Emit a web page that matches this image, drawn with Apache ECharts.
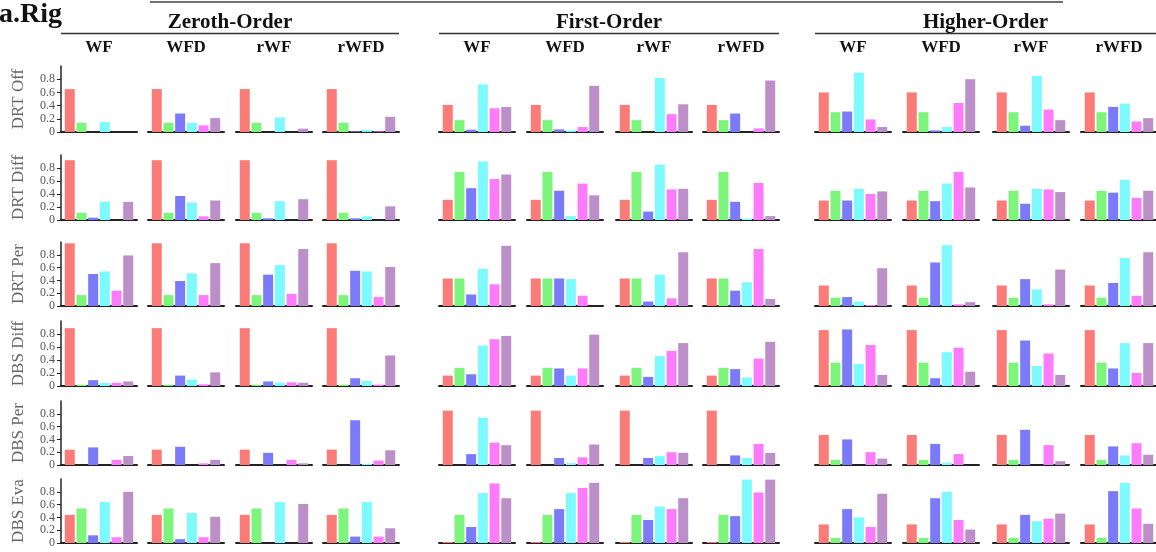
<!DOCTYPE html>
<html>
<head>
<meta charset="utf-8">
<title>a.Rig</title>
<script src="https://cdn.jsdelivr.net/npm/echarts@6/dist/echarts.min.js"></script>
<style>
  html, body { margin: 0; padding: 0; background: #ffffff; overflow: hidden; }
  #chart { width: 1156px; height: 552px; }
</style>
</head>
<body>
<div id="chart"></div>
<script>
// ---- data ----
const panelTitle = 'a.Rig';
const groupNames = ['Zeroth-Order', 'First-Order', 'Higher-Order'];
const variantNames = ['WF', 'WFD', 'rWF', 'rWFD'];
const rowLabels = ['DRT Off', 'DRT Diff', 'DRT Per', 'DBS Diff', 'DBS Per', 'DBS Eva'];
const methodIds = [1, 2, 3, 4, 5, 6];
const tickValues = [0, 0.2, 0.4, 0.6, 0.8];

// one list of six bar heights per panel, columns ordered
// Zeroth (WF, WFD, rWF, rWFD), First (...), Higher (...)
const drtOff = [
  [0.65, 0.14, 0, 0.15, 0, 0],
  [0.65, 0.14, 0.28, 0.14, 0.10, 0.21],
  [0.65, 0.14, 0, 0.22, 0, 0.05],
  [0.65, 0.14, 0.01, 0.03, 0.01, 0.23],
  [0.41, 0.18, 0.035, 0.72, 0.36, 0.38],
  [0.41, 0.18, 0.04, 0.025, 0.075, 0.70],
  [0.41, 0.18, 0, 0.82, 0.27, 0.42],
  [0.41, 0.18, 0.28, 0, 0.055, 0.78],
  [0.60, 0.30, 0.31, 0.90, 0.19, 0.075],
  [0.60, 0.30, 0.025, 0.075, 0.44, 0.80],
  [0.60, 0.30, 0.095, 0.85, 0.34, 0.18],
  [0.60, 0.30, 0.38, 0.43, 0.16, 0.21]
];
const drtDiff = [
  [0.92, 0.11, 0.036, 0.28, 0, 0.28],
  [0.92, 0.11, 0.37, 0.27, 0.056, 0.30],
  [0.92, 0.11, 0.026, 0.29, 0, 0.32],
  [0.92, 0.11, 0.026, 0.056, 0, 0.21],
  [0.31, 0.74, 0.49, 0.90, 0.63, 0.70],
  [0.31, 0.74, 0.45, 0.06, 0.56, 0.38],
  [0.31, 0.74, 0.13, 0.85, 0.47, 0.48],
  [0.31, 0.74, 0.28, 0.02, 0.57, 0.06],
  [0.30, 0.45, 0.30, 0.48, 0.40, 0.44],
  [0.30, 0.45, 0.29, 0.56, 0.74, 0.50],
  [0.30, 0.45, 0.25, 0.48, 0.47, 0.43],
  [0.30, 0.45, 0.42, 0.62, 0.34, 0.45]
];
const drtPer = [
  [0.98, 0.17, 0.50, 0.54, 0.24, 0.79],
  [0.98, 0.17, 0.39, 0.51, 0.17, 0.67],
  [0.98, 0.17, 0.49, 0.64, 0.19, 0.89],
  [0.98, 0.17, 0.55, 0.54, 0.14, 0.61],
  [0.43, 0.43, 0.18, 0.58, 0.34, 0.94],
  [0.43, 0.43, 0.43, 0.42, 0.16, 0],
  [0.43, 0.43, 0.07, 0.49, 0.12, 0.84],
  [0.43, 0.43, 0.24, 0.37, 0.89, 0.11],
  [0.32, 0.13, 0.14, 0.07, 0.016, 0.59],
  [0.32, 0.13, 0.68, 0.95, 0.026, 0.06],
  [0.32, 0.13, 0.42, 0.26, 0.026, 0.57],
  [0.32, 0.13, 0.36, 0.75, 0.16, 0.84]
];
const dbsDiff = [
  [0.89, 0.02, 0.09, 0.046, 0.05, 0.07],
  [0.89, 0.02, 0.16, 0.10, 0.026, 0.21],
  [0.89, 0.02, 0.07, 0.05, 0.056, 0.05],
  [0.89, 0.02, 0.12, 0.077, 0.02, 0.47],
  [0.16, 0.28, 0.18, 0.62, 0.72, 0.77],
  [0.16, 0.28, 0.27, 0.16, 0.27, 0.79],
  [0.16, 0.28, 0.14, 0.46, 0.54, 0.66],
  [0.16, 0.28, 0.26, 0.13, 0.42, 0.68],
  [0.86, 0.36, 0.87, 0.34, 0.63, 0.17],
  [0.86, 0.36, 0.12, 0.52, 0.59, 0.22],
  [0.86, 0.36, 0.70, 0.31, 0.50, 0.17],
  [0.86, 0.36, 0.27, 0.66, 0.20, 0.66]
];
const dbsPer = [
  [0.24, 0, 0.275, 0, 0.08, 0.14],
  [0.24, 0, 0.285, 0, 0.026, 0.08],
  [0.24, 0, 0.19, 0, 0.08, 0.026],
  [0.24, 0, 0.70, 0.02, 0.07, 0.23],
  [0.85, 0, 0.17, 0.74, 0.35, 0.31],
  [0.85, 0, 0.11, 0.03, 0.12, 0.32],
  [0.85, 0, 0.11, 0.14, 0.20, 0.19],
  [0.85, 0, 0.15, 0.11, 0.33, 0.19],
  [0.47, 0.08, 0.40, 0, 0.20, 0.10],
  [0.47, 0.08, 0.33, 0.036, 0.17, 0],
  [0.47, 0.08, 0.55, 0, 0.31, 0.06],
  [0.47, 0.08, 0.29, 0.15, 0.34, 0.16]
];
const dbsEva = [
  [0.44, 0.54, 0.12, 0.64, 0.09, 0.80],
  [0.44, 0.54, 0.06, 0.47, 0.09, 0.41],
  [0.44, 0.54, 0, 0.64, 0, 0.61],
  [0.44, 0.54, 0.10, 0.64, 0.10, 0.23],
  [0.016, 0.44, 0.25, 0.78, 0.93, 0.70],
  [0.016, 0.44, 0.53, 0.78, 0.86, 0.94],
  [0.016, 0.44, 0.36, 0.57, 0.53, 0.70],
  [0.016, 0.44, 0.42, 0.99, 0.79, 0.99],
  [0.29, 0.08, 0.53, 0.40, 0.25, 0.77],
  [0.29, 0.08, 0.70, 0.80, 0.36, 0.21],
  [0.29, 0.08, 0.44, 0.34, 0.38, 0.46],
  [0.29, 0.08, 0.81, 0.94, 0.54, 0.30]
];
const rowData = [drtOff, drtDiff, drtPer, dbsDiff, dbsPer, dbsEva];

// ---- styling & layout ----
const barColors = ['#FA7B77', '#7DF57D', '#7B7BFA', '#7DFAFF', '#FC7CFC', '#BC8FC8'];
const serif = '"Liberation Serif", "Times New Roman", serif';
const colLefts = [61, 148, 236, 323, 439, 527, 616, 703, 815, 903, 993, 1081];
const panelWidth = 76;
const rowBaselines = [132, 220, 306, 386, 465, 543];
const rowHeights = [66, 65, 64, 65, 64, 64];

const grids = [], xAxes = [], yAxes = [], series = [];
rowData.forEach((panels, r) => {
  panels.forEach((vals, c) => {
    const k = grids.length;
    grids.push({
      left: colLefts[c],
      top: rowBaselines[r] - rowHeights[r],
      width: panelWidth,
      height: rowHeights[r],
      containLabel: false,
      outerBoundsMode: 'none'
    });
    xAxes.push({
      gridIndex: k, type: 'value', min: 0.25, max: 6.75,
      axisLine: { show: true, onZero: false, lineStyle: { color: '#222', width: 2 } },
      axisTick: { show: false }, axisLabel: { show: false }, splitLine: { show: false }
    });
    const first = c === 0;
    yAxes.push({
      gridIndex: k, type: 'value', min: 0, max: 1, interval: 0.2,
      show: first,
      name: first ? rowLabels[r] : '',
      nameLocation: 'middle', nameRotate: 90, nameGap: 34,
      nameMoveOverlap: false,
      nameTextStyle: { fontFamily: serif, fontSize: 17, color: '#666' },
      axisLine: { show: true, lineStyle: { color: '#222', width: 1.5 } },
      axisTick: { show: true, length: 4, customValues: tickValues, lineStyle: { color: '#222' } },
      axisLabel: {
        show: true, margin: 6, fontFamily: serif, fontSize: 12, lineHeight: 12, color: '#555',
        showMinLabel: true, showMaxLabel: true, hideOverlap: false,
        formatter: v => (tickValues.some(t => Math.abs(t - v) < 1e-6) ? String(+v.toFixed(1)) : '')
      },
      splitLine: { show: false }
    });
    series.push({
      type: 'bar', xAxisIndex: k, yAxisIndex: k, barWidth: 10,
      silent: true,
      data: vals.map((v, i) => [methodIds[i], v]),
      itemStyle: { color: p => barColors[p.dataIndex] }
    });
  });
});

// headers: panel tag, group titles with rules, variant names
const graphics = [
  { type: 'text', x: -1, y: 15, style: { text: panelTitle, font: 'bold 28px ' + serif, fill: '#111', align: 'left', verticalAlign: 'middle' } },
  { type: 'line', shape: { x1: 150, y1: 2, x2: 1063, y2: 2 }, style: { stroke: '#444', lineWidth: 1.5 } }
];
groupNames.forEach((g, gi) => {
  const l = colLefts[gi * 4];
  const rgt = gi === 2 ? 1156 : colLefts[gi * 4 + 3] + panelWidth;
  const cx = (l + rgt) / 2;
  graphics.push({ type: 'line', shape: { x1: l, y1: 33.5, x2: rgt, y2: 33.5 }, style: { stroke: '#333', lineWidth: 1.5 } });
  graphics.push({ type: 'text', x: cx, y: 23, style: { text: g, font: 'bold 21px ' + serif, fill: '#111', align: 'center', verticalAlign: 'middle' } });
  variantNames.forEach((v, vi) => {
    const c = gi * 4 + vi;
    graphics.push({ type: 'text', x: colLefts[c] + panelWidth / 2, y: 48, style: { text: v, font: 'bold 17px ' + serif, fill: '#111', align: 'center', verticalAlign: 'middle' } });
  });
});

const chart = echarts.init(document.getElementById('chart'), null, { renderer: 'canvas' });
chart.setOption({
  animation: false,
  backgroundColor: '#ffffff',
  grid: grids,
  xAxis: xAxes,
  yAxis: yAxes,
  series: series,
  graphic: graphics
});
</script>
</body>
</html>
